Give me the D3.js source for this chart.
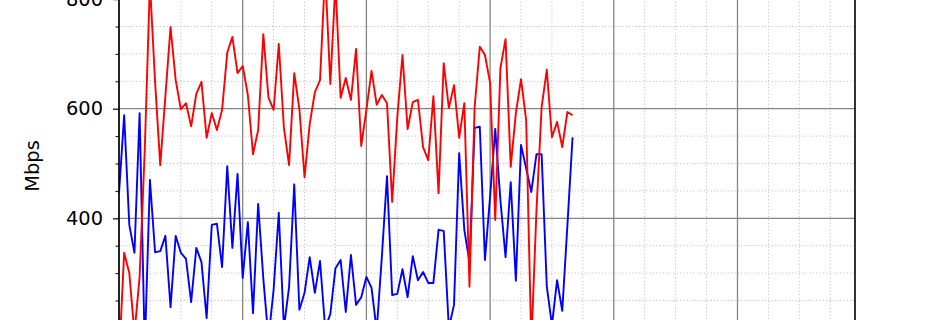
<!DOCTYPE html>
<html>
<head>
<meta charset="utf-8">
<script src="https://cdn.jsdelivr.net/npm/d3@7"></script>
<style>
  html, body { margin: 0; padding: 0; background: #ffffff; }
  svg { display: block; font-family: "DejaVu Sans", sans-serif; }
</style>
</head>
<body>
<svg id="chart" width="950" height="320"></svg>
<script>
// ---- data (sample index = position in array) ----
const redValues = [
  140, 337, 300, 190, 293, 525, 830, 649, 497, 623,
  749, 652, 599, 610, 568, 627, 649, 547, 592, 561,
  598, 702, 731, 665, 678, 625, 517, 561, 736, 620,
  598, 718, 565, 497, 665, 599, 475, 572, 630, 652,
  850, 645, 830, 620, 656, 616, 709, 532, 598, 669,
  607, 625, 610, 430, 585, 698, 563, 612, 616, 530,
  506, 623, 446, 683, 601, 643, 547, 610, 275, 603,
  713, 698, 647, 397, 674, 727, 494, 592, 654, 579,
  170, 415, 603, 671, 548, 576, 530, 594, 588
];
const blueValues = [
  446, 588, 388, 337, 592, 160, 470, 338, 340, 368,
  238, 368, 337, 326, 247, 346, 320, 218, 388, 390,
  311, 495, 346, 481, 291, 393, 227, 426, 290, 180,
  270, 410, 200, 275, 462, 233, 264, 329, 264, 322,
  200, 225, 309, 324, 229, 333, 242, 256, 293, 273,
  195, 330, 477, 260, 262, 307, 256, 331, 287, 302,
  282, 282, 379, 377, 200, 242, 519, 379, 320, 565,
  567, 324, 440, 563, 433, 329, 466, 286, 534, 491,
  448, 517, 517, 276, 205, 287, 231, 387, 548
];
const yMajorTicks = [0, 200, 400, 600, 800];
const yTickLabels = [400, 600, 800];
const yMinorTicks = [50, 100, 150, 250, 300, 350, 450, 500, 550, 650, 700, 750, 850];
const xMajorTicks = [0, 24, 48, 72, 96, 120];
const xMinorTicks = [6, 12, 18, 30, 36, 42, 54, 60, 66, 78, 84, 90, 102, 108, 114, 126, 132, 138];
const yLabel = "Mbps";

// ---- layout ----
const pLeft = 119, pRight = 855, pTop = -56, pBottom = 438;
const svg = d3.select("#chart");

const x = d3.scaleLinear().domain([0, 142.8]).range([pLeft, pRight]);
const y = d3.scaleLinear().domain([0, 900]).range([437.5, -55.7]);

// minor grid
const g = svg.append("g");
g.selectAll("line.yminor").data(yMinorTicks).join("line")
  .attr("x1", pLeft).attr("x2", pRight)
  .attr("y1", d => y(d)).attr("y2", d => y(d))
  .attr("stroke", "#c4c4c4").attr("stroke-width", 1).attr("stroke-dasharray", "1.2,2.2");
g.selectAll("line.xminor").data(xMinorTicks).join("line")
  .attr("x1", d => x(d)).attr("x2", d => x(d))
  .attr("y1", pTop).attr("y2", pBottom)
  .attr("stroke", "#c4c4c4").attr("stroke-width", 1).attr("stroke-dasharray", "1.2,2.2");

// major grid
g.selectAll("line.ymajor").data(yMajorTicks).join("line")
  .attr("x1", pLeft).attr("x2", pRight)
  .attr("y1", d => y(d)).attr("y2", d => y(d))
  .attr("stroke", "#858585").attr("stroke-width", 1.3);
g.selectAll("line.xmajor").data(xMajorTicks).join("line")
  .attr("x1", d => x(d)).attr("x2", d => x(d))
  .attr("y1", pTop).attr("y2", pBottom)
  .attr("stroke", "#858585").attr("stroke-width", 1.3);

// clip
svg.append("clipPath").attr("id", "plotclip").append("rect")
  .attr("x", pLeft).attr("y", pTop).attr("width", pRight - pLeft).attr("height", pBottom - pTop);

const line = d3.line().x((d, i) => x(i)).y(d => y(d));
const lines = svg.append("g").attr("clip-path", "url(#plotclip)");
lines.append("path").datum(blueValues).attr("d", line)
  .attr("fill", "none").attr("stroke", "#0000ff").attr("stroke-width", 1.9).attr("stroke-linejoin", "round");
lines.append("path").datum(redValues).attr("d", line)
  .attr("fill", "none").attr("stroke", "#ff0000").attr("stroke-width", 1.9).attr("stroke-linejoin", "round");

// axes
const yAxisMinor = d3.axisLeft(y).tickValues(yMinorTicks).tickSize(3.5).tickFormat("");
svg.append("g").attr("transform", `translate(${pLeft},0)`).call(yAxisMinor)
  .call(s => s.select(".domain").remove())
  .selectAll("line").attr("stroke", "#000").attr("stroke-width", 1);

const yAxis = d3.axisLeft(y).tickValues(yTickLabels).tickSize(6).tickPadding(10).tickFormat(d3.format("d"));
svg.append("g").attr("transform", `translate(${pLeft},0)`).call(yAxis)
  .call(s => s.select(".domain").remove())
  .call(s => s.selectAll("line").attr("stroke", "#000").attr("stroke-width", 1.2))
  .call(s => s.selectAll("text").attr("font-size", "19.4px").attr("fill", "#000")
    .attr("font-family", "DejaVu Sans"));

// spines
svg.append("line").attr("x1", pLeft).attr("x2", pLeft).attr("y1", pTop).attr("y2", pBottom)
  .attr("stroke", "#000").attr("stroke-width", 1.6);
svg.append("line").attr("x1", pRight).attr("x2", pRight).attr("y1", pTop).attr("y2", pBottom)
  .attr("stroke", "#000").attr("stroke-width", 1.6);

// y label
svg.append("text").attr("transform", "translate(39,166) rotate(-90)")
  .attr("text-anchor", "middle").attr("font-size", "19.4px").attr("fill", "#000")
  .text(yLabel);
</script>
</body>
</html>
